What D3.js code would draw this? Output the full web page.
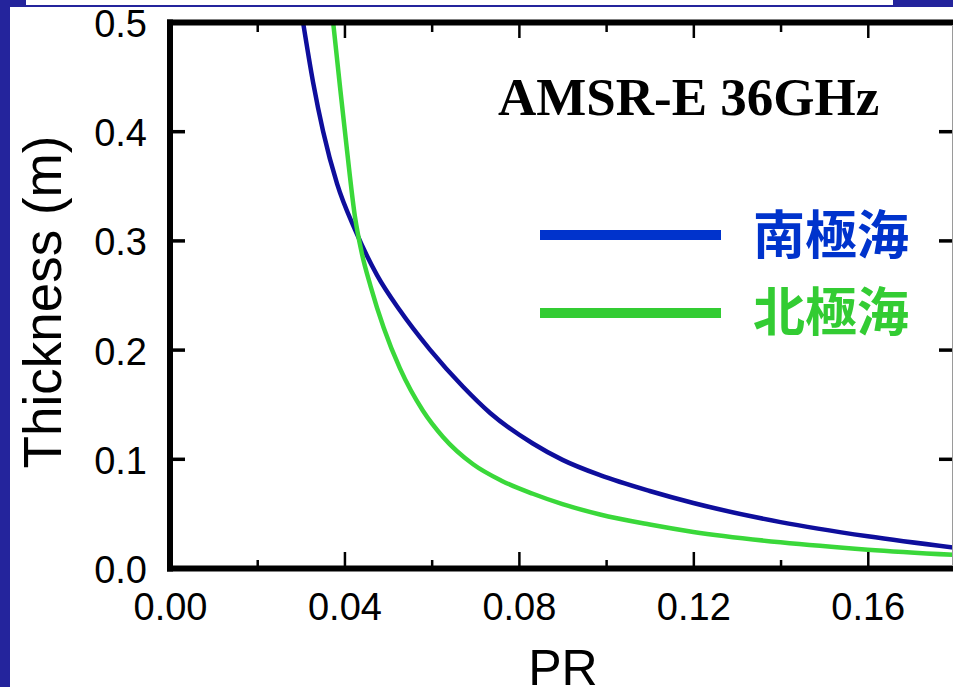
<!DOCTYPE html>
<html>
<head>
<meta charset="utf-8">
<script src="https://cdn.jsdelivr.net/npm/d3@7"></script>
<style>
html, body { margin: 0; padding: 0; background: #ffffff; }
svg { display: block; }
</style>
</head>
<body>
<div id="chart"></div>
<script>
// ---- data ----
const title = "AMSR-E 36GHz";
const xLabel = "PR";
const yLabel = "Thickness (m)";
const seriesNames = ["南極海", "北極海"];

// Antarctic (blue)
const southPR = [0.0305, 0.0328, 0.0351, 0.0383, 0.0424, 0.0475, 0.0527, 0.0596, 0.0672, 0.0734, 0.0832, 0.0900, 0.0986, 0.110, 0.120, 0.140, 0.160, 0.180];
const southThick = [0.500, 0.445, 0.400, 0.352, 0.310, 0.268, 0.236, 0.200, 0.166, 0.142, 0.114, 0.099, 0.085, 0.0705, 0.0595, 0.0420, 0.0290, 0.0185];
// Arctic (green)
const northPR = [0.0374, 0.0390, 0.0406, 0.0424, 0.0440, 0.0460, 0.0490, 0.0527, 0.0580, 0.0626, 0.0695, 0.0760, 0.0832, 0.0900, 0.0986, 0.110, 0.120, 0.140, 0.160, 0.180];
const northThick = [0.500, 0.440, 0.382, 0.322, 0.288, 0.258, 0.220, 0.183, 0.144, 0.120, 0.095, 0.080, 0.068, 0.0585, 0.049, 0.0398, 0.0330, 0.0235, 0.0168, 0.0120];

const xMajorTicks = [0.00, 0.04, 0.08, 0.12, 0.16];
const xMinorTicks = [0.02, 0.06, 0.10, 0.14, 0.18];
const yTicks = [0.0, 0.1, 0.2, 0.3, 0.4, 0.5];

// ---- layout ----
const W = 953, H = 687;
const svg = d3.select("#chart").append("svg").attr("width", W).attr("height", H);

// slide decoration
const navy = "#24249c";
svg.append("rect").attr("x", 0).attr("y", 0).attr("width", W).attr("height", 7).attr("fill", navy);
svg.append("rect").attr("x", 26).attr("y", 0).attr("width", 867).attr("height", 5).attr("fill", "#ffffff");
svg.append("rect").attr("x", 0).attr("y", 0).attr("width", 10).attr("height", H).attr("fill", navy);

const x = d3.scaleLinear().domain([0, 0.18]).range([170, 955]);
const y = d3.scaleLinear().domain([0, 0.5]).range([568, 22]);

const tickFont = "'Liberation Sans', Arial, Helvetica, sans-serif";

// clip
svg.append("clipPath").attr("id", "plotclip").append("rect")
  .attr("x", 170).attr("y", 22).attr("width", 785).attr("height", 546);

// curves
const line = d3.line().x(d => x(d[0])).y(d => y(d[1])).curve(d3.curveMonotoneX);
const southData = southPR.map((p, i) => [p, southThick[i]]);
const northData = northPR.map((p, i) => [p, northThick[i]]);
const curves = svg.append("g").attr("clip-path", "url(#plotclip)");
curves.append("path").datum(southData).attr("d", line)
  .attr("fill", "none").attr("stroke", "#0e0e9c").attr("stroke-width", 4.5);
curves.append("path").datum(northData).attr("d", line)
  .attr("fill", "none").attr("stroke", "#3ad83a").attr("stroke-width", 4.5);

// axes
function styleAxis(g, w) {
  g.select(".domain").remove();
  g.selectAll(".tick line").attr("stroke", "#000").attr("stroke-width", w);
  g.selectAll(".tick text").attr("fill", "#000").attr("font-family", tickFont).attr("font-size", 38);
}

// bottom
const gB = svg.append("g").attr("transform", "translate(0,568)")
  .call(d3.axisBottom(x).tickValues(xMajorTicks).tickSize(-16).tickPadding(25).tickFormat(d3.format(".2f")));
styleAxis(gB, 2.5);
svg.append("g").attr("transform", "translate(0,568)")
  .call(d3.axisBottom(x).tickValues(xMinorTicks).tickSize(-8).tickFormat(""))
  .call(g => styleAxis(g, 2.5));

// top
svg.append("g").attr("transform", "translate(0,22.5)")
  .call(d3.axisTop(x).tickValues(xMajorTicks).tickSize(-15.5).tickFormat(""))
  .call(g => styleAxis(g, 2.5));
svg.append("g").attr("transform", "translate(0,22.5)")
  .call(d3.axisTop(x).tickValues(xMinorTicks).tickSize(-9.5).tickFormat(""))
  .call(g => styleAxis(g, 2.5));

// left
const gL = svg.append("g").attr("transform", "translate(170,0)")
  .call(d3.axisLeft(y).tickValues(yTicks).tickSize(-15).tickPadding(23).tickFormat(d3.format(".1f")));
styleAxis(gL, 3.5);
gL.selectAll(".tick text").attr("dy", "0.38em");

// right
svg.append("g").attr("transform", "translate(954,0)")
  .call(d3.axisRight(y).tickValues(yTicks).tickSize(-15).tickFormat(""))
  .call(g => styleAxis(g, 3.5));

// frame
const frame = svg.append("g").attr("stroke", "#000").attr("stroke-width", 6).attr("fill", "none");
frame.append("line").attr("x1", 167).attr("x2", W).attr("y1", 22.5).attr("y2", 22.5);
frame.append("line").attr("x1", 167).attr("x2", W).attr("y1", 568.5).attr("y2", 568.5);
frame.append("line").attr("x1", 170).attr("x2", 170).attr("y1", 19.5).attr("y2", 571.5);
svg.append("line").attr("x1", 952.5).attr("x2", 952.5).attr("y1", 25).attr("y2", 566)
  .attr("stroke", "#9a9a9a").attr("stroke-width", 1);

// axis titles
svg.append("text").attr("x", 563).attr("y", 685).attr("text-anchor", "middle")
  .attr("font-family", tickFont).attr("font-size", 50).attr("fill", "#000").text(xLabel);
svg.append("text").attr("transform", "translate(61,302) rotate(-90)").attr("text-anchor", "middle")
  .attr("font-family", tickFont).attr("font-size", 53).attr("fill", "#000").text(yLabel);

// chart title
svg.append("text").attr("x", 498).attr("y", 115)
  .attr("font-family", "'Liberation Serif', 'Times New Roman', serif").attr("font-weight", "bold")
  .attr("font-size", 53).attr("fill", "#000").text(title);

// legend
const legendColors = ["#0033cc", "#33cc33"];
const legendY = [235, 313];
const legendBase = [253.5, 331];
seriesNames.forEach((name, i) => {
  svg.append("line").attr("x1", 540).attr("x2", 721).attr("y1", legendY[i]).attr("y2", legendY[i])
    .attr("stroke", legendColors[i]).attr("stroke-width", 10);
  svg.append("text").attr("x", 753).attr("y", legendBase[i])
    .attr("font-family", "'Noto Sans CJK JP', 'Noto Sans CJK SC', sans-serif").attr("font-weight", "bold")
    .attr("font-size", 52).attr("fill", legendColors[i]).text(name);
});
</script>
</body>
</html>
